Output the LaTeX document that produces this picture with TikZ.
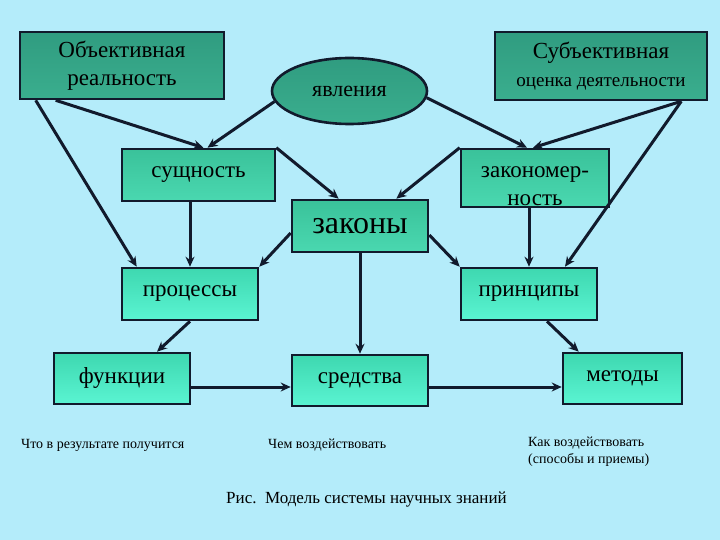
\documentclass[tikz,border=0pt]{standalone}
\usepackage{fontspec}
\setmainfont{Liberation Serif}
\usetikzlibrary{arrows.meta,shapes.geometric}
\definecolor{fond}{HTML}{B4ECFA}
\definecolor{ligne}{HTML}{111A2C}
\definecolor{haut1}{HTML}{309C80}
\definecolor{haut2}{HTML}{3AAE8E}
\definecolor{mil1}{HTML}{3AC29A}
\definecolor{mil2}{HTML}{4AD8B0}
\definecolor{bas1}{HTML}{3ED8B0}
\definecolor{bas2}{HTML}{5AF4D2}
\tikzset{
	bloc/.style={draw=ligne, line width=2.6pt, rectangle, inner sep=0pt, align=center,
		font=\fontsize{23}{28}\selectfont},
	blochaut/.style={bloc, top color=haut1, bottom color=haut2},
	blocmil/.style={bloc, top color=mil1, bottom color=mil2},
	blocbas/.style={bloc, top color=bas1, bottom color=bas2},
	fleche/.style={draw=ligne, line width=3pt, -{Stealth[length=10pt,width=9pt]}},
	note/.style={font=\fontsize{14}{17}\selectfont, inner sep=0pt, align=left}
}
\begin{document}
\begin{tikzpicture}[x=1pt,y=-1pt]
	\fill[fond] (0,0) rectangle (720,540);
	\node[blochaut, minimum width=204, minimum height=67] (obj) at (122,65.5) {Объективная\\реальность};
	\node[blochaut, minimum width=212, minimum height=68] (subj) at (601,66)
		{Субъективная\\{\fontsize{19}{24}\selectfont оценка деятельности}};
	\node[draw=ligne, line width=2.6pt, ellipse, inner sep=0pt, minimum width=155, minimum height=66,
		top color=haut1, bottom color=haut2, font=\fontsize{22}{26}\selectfont] (yav) at (349.5,91) {явления};
	\node[blocmil, minimum width=153, minimum height=52] (sush) at (198.5,175) {сущность};
	\node[blocmil, minimum width=148, minimum height=58] (zakm) at (535,178) {\rule{0pt}{27pt}закономер-\\ность};
	\node[blocmil, minimum width=136, minimum height=52, font=\fontsize{32}{36}\selectfont] (zak) at (360,226) {законы};
	\node[blocbas, minimum width=136, minimum height=52] (proc) at (190,294) {процессы};
	\node[blocbas, minimum width=136, minimum height=52] (princ) at (529,294) {принципы};
	\node[blocbas, minimum width=136, minimum height=51] (func) at (122,378.5) {функции};
	\node[blocbas, minimum width=136, minimum height=51] (sred) at (360,380.5) {средства};
	\node[blocbas, minimum width=119, minimum height=51] (met) at (622.5,378.5) {методы};
	\node[note, anchor=west] (n1) at (21,445) {Что в результате получится};
	\node[note, anchor=west] (n2) at (268,445) {Чем воздействовать};
	\node[note, anchor=north west] (n3) at (528,437) {Как воздействовать\\(способы и приемы)};
	\node[anchor=west, inner sep=0pt, font=\fontsize{17}{21}\selectfont] (cap) at (226,500)
		{Рис.\ \ Модель системы научных знаний};
	\draw[fleche] ([xshift=17pt]obj.south west) -- ([xshift=16pt]proc.north west);
	\draw[fleche] ([xshift=37pt]obj.south west) -- ([xshift=5pt]sush.north);
	\draw[fleche] (yav.188) -- ([xshift=9pt]sush.north);
	\draw[fleche] (yav.-5) -- ([xshift=-8pt]zakm.north);
	\draw[fleche] ([xshift=-27pt]subj.south east) -- ([xshift=-2pt]zakm.north);
	\draw[fleche] ([xshift=-27pt]subj.south east) -- ([xshift=36pt]princ.north);
	\draw[fleche] (sush.north east) -- ([xshift=48pt]zak.north west);
	\draw[fleche] (zakm.north west) -- ([xshift=-33pt]zak.north east);
	\draw[fleche] ([xshift=-8.5pt]sush.south) -- (proc.north);
	\draw[fleche] ([yshift=-7pt]zak.west) -- (proc.north east);
	\draw[fleche] ([yshift=-9pt]zak.east) -- (princ.north west);
	\draw[fleche] ([xshift=-6pt]zakm.south) -- (princ.north);
	\draw[fleche] (zak.south) -- (sred.north);
	\draw[fleche] (proc.south) -- ([xshift=35pt]func.north);
	\draw[fleche] ([xshift=18pt]princ.south) -- ([xshift=17pt]met.north west);
	\draw[fleche] ([yshift=-8.5pt]func.east) -- ([yshift=-6.5pt]sred.west);
	\draw[fleche] ([yshift=-6.5pt]sred.east) -- ([yshift=-8.5pt]met.west);
\end{tikzpicture}
\end{document}
